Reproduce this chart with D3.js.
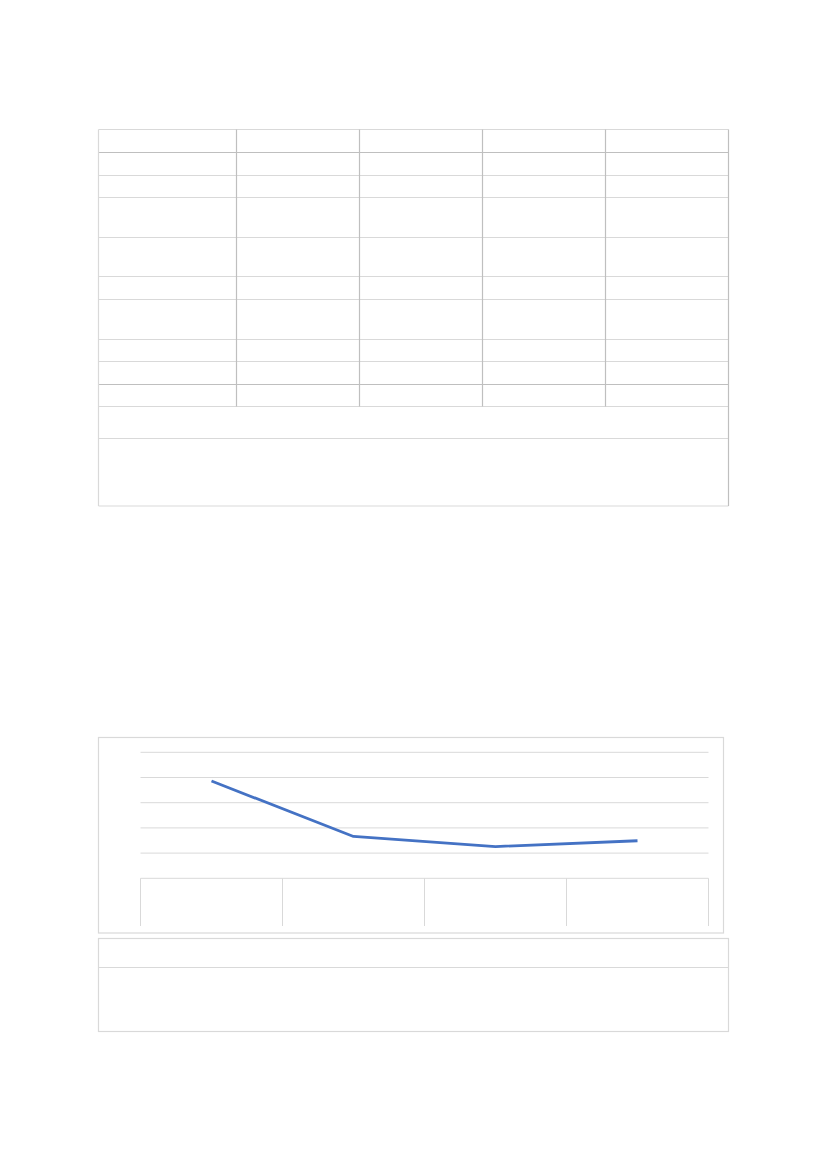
<!DOCTYPE html>
<html lang="en">
<head>
    <meta charset="UTF-8">
    <title>Line chart with tables</title>
    <style>
        body { margin: 0; background: #ffffff; }
        svg { display: block; }
    </style>
    <script src="https://d3js.org/d3.v7.min.js"></script>
</head>
<body>
<svg id="page" width="827" height="1169"></svg>
<script>
    // chart data (the page shows no labels, only the shape)
    const categories = ["Q1", "Q2", "Q3", "Q4"];
    const values = [3.86, 1.66, 1.26, 1.49];
    const yTicks = [0, 1, 2, 3, 4, 5];

    const svg = d3.select("#page");
    const light = "#d9d9d9", dark = "#bfbfbf";

    // ---- top table (empty cells) ----
    const tableX = [98.5, 236.5, 359.5, 482.5, 605.5, 728.5];
    const tableRows = [129.5, 152.5, 175.5, 197.5, 237.5, 276.5, 299.5, 339.5, 361.5, 384.5, 406.5];
    const tableFoot = [438.5, 506];
    const darkRows = new Set([152.5, 384.5]);

    const upper = svg.append("g");
    upper.selectAll("line.h")
        .data(tableRows.concat(tableFoot))
        .enter().append("line")
        .attr("x1", tableX[0]).attr("x2", tableX[tableX.length - 1])
        .attr("y1", d => d).attr("y2", d => d)
        .attr("stroke", d => darkRows.has(d) ? dark : light)
        .attr("stroke-width", 1.2);
    upper.selectAll("line.v")
        .data(tableX)
        .enter().append("line")
        .attr("x1", d => d).attr("x2", d => d)
        .attr("y1", tableRows[0])
        .attr("y2", (d, i) => (i === 0 || i === tableX.length - 1) ? tableFoot[1] : tableRows[tableRows.length - 1])
        .attr("stroke", (d, i) => i === 0 ? light : dark)
        .attr("stroke-width", 1.2);

    // ---- chart ----
    const plot = {left: 140.5, right: 708.5, top: 752.3, bottom: 878.3};
    const x = d3.scaleBand().domain(categories).range([plot.left, plot.right]);
    const y = d3.scaleLinear().domain([0, 5]).range([plot.bottom, plot.top]);

    const chart = svg.append("g");
    chart.append("rect")
        .attr("x", 98.5).attr("y", 737.5)
        .attr("width", 723.5 - 98.5).attr("height", 933 - 737.5)
        .attr("fill", "none").attr("stroke", light).attr("stroke-width", 1.2);

    chart.selectAll("line.grid")
        .data(yTicks)
        .enter().append("line")
        .attr("x1", plot.left).attr("x2", plot.right)
        .attr("y1", d => y(d)).attr("y2", d => y(d))
        .attr("stroke", light).attr("stroke-width", 1);

    // data table under the axis (cells per category)
    const cellBottom = 926;
    chart.selectAll("line.cell")
        .data(categories.concat(["end"]))
        .enter().append("line")
        .attr("x1", (d, i) => i < categories.length ? x(d) : plot.right)
        .attr("x2", (d, i) => i < categories.length ? x(d) : plot.right)
        .attr("y1", y(0)).attr("y2", cellBottom)
        .attr("stroke", light).attr("stroke-width", 1);

    const line = d3.line()
        .x((d, i) => x(categories[i]) + x.bandwidth() / 2)
        .y(d => y(d));
    chart.append("path")
        .datum(values)
        .attr("d", line)
        .attr("fill", "none")
        .attr("stroke", "#4472c4")
        .attr("stroke-width", 2.8)
        .attr("stroke-linejoin", "round");

    // ---- lower box ----
    const lower = svg.append("g");
    lower.append("rect")
        .attr("x", 98.5).attr("y", 938.5)
        .attr("width", 728.5 - 98.5).attr("height", 1031.5 - 938.5)
        .attr("fill", "none").attr("stroke", light).attr("stroke-width", 1.2);
    lower.append("line")
        .attr("x1", 98.5).attr("x2", 728.5)
        .attr("y1", 967.5).attr("y2", 967.5)
        .attr("stroke", light).attr("stroke-width", 1.2);
</script>
</body>
</html>
